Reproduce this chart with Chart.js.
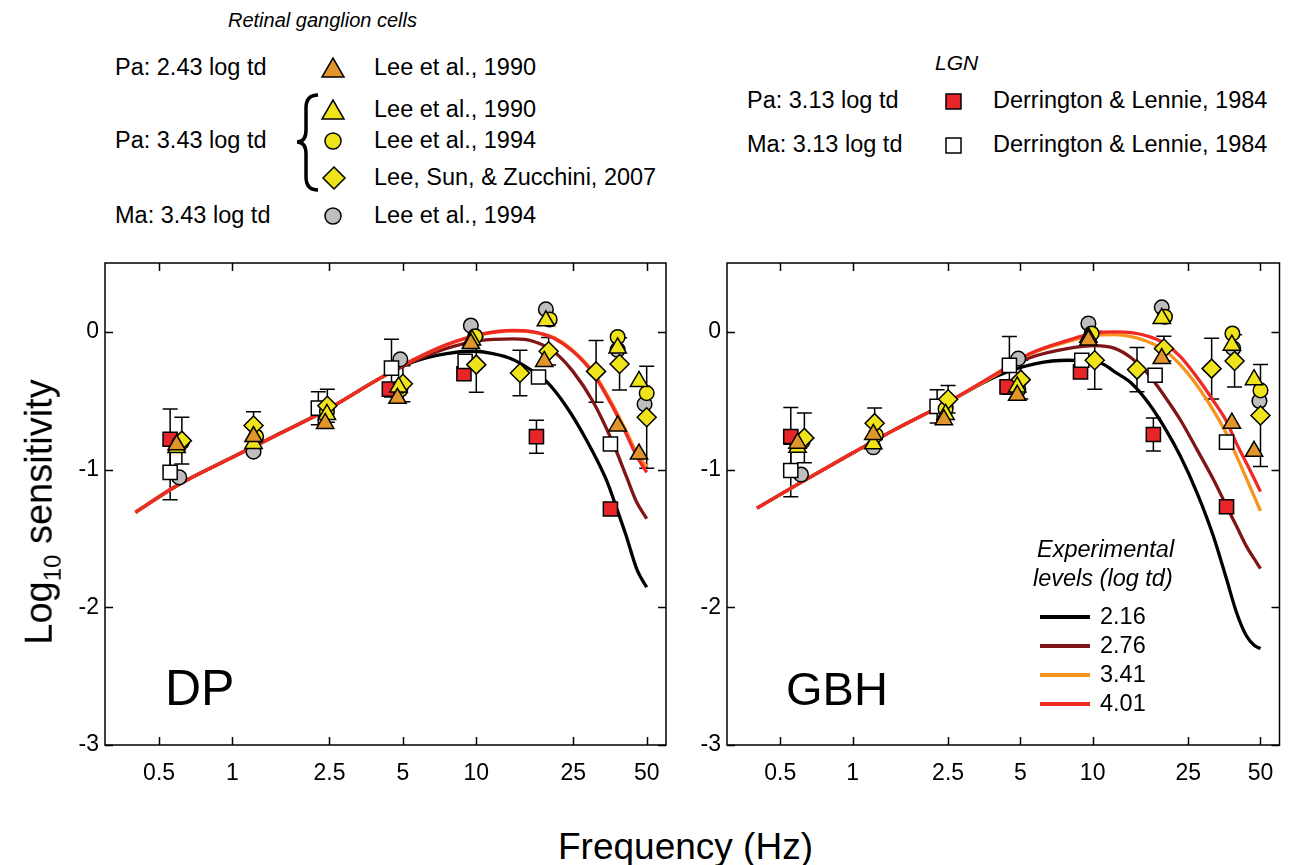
<!DOCTYPE html>
<html>
<head>
<meta charset="utf-8">
<script src="https://cdn.jsdelivr.net/npm/chart.js@4.4.0/dist/chart.umd.min.js"></script>
<style>
body { margin: 0; background: #fff; font-family: 'Liberation Sans', Arial, sans-serif; color: #000; }
#page { position: relative; width: 1291px; height: 865px; overflow: hidden; }
.t { position: absolute; white-space: nowrap; line-height: 1; transform: translateY(-50%); font-size: 23.5px; }
.it { font-style: italic; }
canvas { position: absolute; }
svg { position: absolute; left: 0; top: 0; }
.sw { position: absolute; height: 4px; width: 50px; transform: translateY(-50%); }
</style>
</head>
<body>
<div id="page">
  <svg width="1291" height="240">
    <polygon points="322,77 344,77 333,58" fill="#E0962B" stroke="#000" stroke-width="1.5"/>
    <polygon points="322,119 344,119 333,100" fill="#EFE41C" stroke="#000" stroke-width="1.5"/>
    <circle cx="333" cy="141" r="8" fill="#EFE41C" stroke="#000" stroke-width="1.5"/>
    <polygon points="334,167 345,178 334,189 323,178" fill="#EFE41C" stroke="#000" stroke-width="1.5"/>
    <circle cx="333" cy="216" r="8" fill="#BEBEBE" stroke="#000" stroke-width="1.5"/>
    <path d="M318,95 Q306,95 306,108 L306,130 Q306,142 297,142 Q306,142 306,154 L306,177 Q306,190 318,190" fill="none" stroke="#000" stroke-width="3.5"/>
    <rect x="946" y="94" width="15" height="15" fill="#E8262A" stroke="#000" stroke-width="1.5"/>
    <rect x="946" y="138" width="15" height="15" fill="#fff" stroke="#000" stroke-width="1.5"/>
  </svg>

  <div class="t it" style="left:228px;top:20px;font-size:20px">Retinal ganglion cells</div>
  <div class="t" style="left:115px;top:68px">Pa: 2.43 log td</div>
  <div class="t" style="left:374px;top:68px">Lee et al., 1990</div>
  <div class="t" style="left:374px;top:110px">Lee et al., 1990</div>
  <div class="t" style="left:115px;top:141px">Pa: 3.43 log td</div>
  <div class="t" style="left:374px;top:141px">Lee et al., 1994</div>
  <div class="t" style="left:374px;top:178px">Lee, Sun, &amp; Zucchini, 2007</div>
  <div class="t" style="left:115px;top:216px">Ma: 3.43 log td</div>
  <div class="t" style="left:374px;top:216px">Lee et al., 1994</div>

  <div class="t it" style="left:935px;top:62px;font-size:21px">LGN</div>
  <div class="t" style="left:747px;top:101px">Pa: 3.13 log td</div>
  <div class="t" style="left:993px;top:101px">Derrington &amp; Lennie, 1984</div>
  <div class="t" style="left:747px;top:145px">Ma: 3.13 log td</div>
  <div class="t" style="left:993px;top:145px">Derrington &amp; Lennie, 1984</div>

  <canvas id="dp" width="680" height="540" style="left:0;top:250px"></canvas>
  <canvas id="gbh" width="611" height="540" style="left:680px;top:250px"></canvas>

  <div class="t" style="left:165px;top:688px;font-size:50px">DP</div>
  <div class="t" style="left:786px;top:688px;font-size:47px">GBH</div>

  <div class="t it" style="left:1037px;top:550px">Experimental</div>
  <div class="t it" style="left:1033px;top:579px">levels (log td)</div>
  <div class="sw" style="left:1040px;top:617px;background:#000"></div>
  <div class="sw" style="left:1040px;top:646px;background:#801517"></div>
  <div class="sw" style="left:1040px;top:675px;background:#F7941D"></div>
  <div class="sw" style="left:1040px;top:704px;background:#EE2A24"></div>
  <div class="t" style="left:1100px;top:617px">2.16</div>
  <div class="t" style="left:1100px;top:646px">2.76</div>
  <div class="t" style="left:1100px;top:675px">3.41</div>
  <div class="t" style="left:1100px;top:704px">4.01</div>

  <div class="t" style="left:22px;top:512px;font-size:38px;transform:translate(-0%,-50%) rotate(-90deg);transform-origin:center;width:300px;margin-left:-130px;text-align:center">Log<sub style="font-size:24px">10</sub> sensitivity</div>
  <div class="t" style="left:558px;top:846px;font-size:37px">Frequency (Hz)</div>
</div>

<script>
// axis ticks
const xTicks = [0.5, 1, 2.5, 5, 10, 25, 50];
const yTicks = [-3, -2, -1, 0];

// ---- DP panel: data points ----
const dpOrangeTriX = [0.59, 1.22, 2.4, 4.75, 9.5, 19, 38, 46.5];
const dpOrangeTriY = [-0.82, -0.76, -0.665, -0.483, -0.085, -0.215, -0.683, -0.887];
const dpYellowTriX = [0.59, 1.22, 2.44, 4.8, 9.6, 19.3, 38, 46.5];
const dpYellowTriY = [-0.84, -0.81, -0.6, -0.4, -0.06, 0.08, -0.117, -0.36];
const dpYellowCircX = [0.62, 1.25, 2.44, 4.88, 9.9, 20, 38, 50];
const dpYellowCircY = [-0.8, -0.76, -0.58, -0.42, -0.032, 0.09, -0.037, -0.445];
const dpDiamondX = [0.62, 1.22, 2.45, 5.0, 10.0, 15.1, 19.8, 31, 38.7, 50];
const dpDiamondY = [-0.79, -0.68, -0.537, -0.377, -0.238, -0.299, -0.141, -0.287, -0.233, -0.62];
const dpDiamondErr = [0.17, 0.1, 0.12, 0.13, 0.2, 0.165, 0.1, 0.225, 0.19, 0.37];
const dpGrayX = [0.605, 1.22, 2.4, 4.88, 9.5, 19.3, 38, 49];
const dpGrayY = [-1.057, -0.87, -0.58, -0.2, 0.046, 0.163, -0.13, -0.525];
const dpRedSqX = [0.555, 4.4, 8.9, 17.65, 35.5];
const dpRedSqY = [-0.78, -0.416, -0.304, -0.761, -1.286];
const dpRedSqErr = [0.22, 0, 0, 0.12, 0];
const dpWhiteSqX = [0.555, 2.25, 4.49, 9.0, 18.0, 35.5];
const dpWhiteSqY = [-1.02, -0.554, -0.263, -0.214, -0.328, -0.814];
const dpWhiteSqErr = [0.2, 0.12, 0.21, 0, 0, 0];

// ---- DP panel: model curves ----
const dpCurveX = [0.4, 0.6, 1, 1.5, 2.5, 4, 5.5, 7.55, 10.3, 14.2, 17.1, 20.7, 24.9, 30.1, 36.4, 41.3, 45.4, 50];
const dpRed = [-1.31, -1.11, -0.91, -0.755, -0.555, -0.34, -0.205, -0.093, -0.02, 0.01, 0.0, -0.044, -0.141, -0.3, -0.55, -0.745, -0.9, -1.02];
const dpOrange = [-1.31, -1.11, -0.91, -0.755, -0.555, -0.34, -0.205, -0.095, -0.022, 0.008, -0.002, -0.04, -0.135, -0.29, -0.535, -0.725, -0.875, -0.98];
const dpDarkRed = [-1.31, -1.11, -0.91, -0.755, -0.555, -0.34, -0.215, -0.12, -0.063, -0.051, -0.068, -0.141, -0.287, -0.506, -0.809, -1.052, -1.234, -1.356];
const dpBlackX = [0.4, 0.6, 1, 1.5, 2.5, 4, 5.5, 7.55, 9.65, 11.7, 14.2, 17.1, 19.4, 23.4, 28.3, 34.2, 37.8, 41, 45.7, 50];
const dpBlack = [-1.31, -1.11, -0.91, -0.755, -0.555, -0.34, -0.219, -0.158, -0.141, -0.158, -0.202, -0.287, -0.36, -0.542, -0.785, -1.077, -1.29, -1.47, -1.73, -1.855];

// ---- GBH panel: data points ----
const gbhOrangeTriX = [0.59, 1.22, 2.4, 4.85, 9.6, 19.4, 38, 47];
const gbhOrangeTriY = [-0.808, -0.745, -0.638, -0.461, -0.06, -0.194, -0.663, -0.867];
const gbhYellowTriX = [0.59, 1.22, 2.44, 4.85, 9.6, 19.4, 38, 47];
const gbhYellowTriY = [-0.838, -0.813, -0.6, -0.4, -0.04, 0.097, -0.097, -0.347];
const gbhYellowCircX = [0.62, 1.25, 2.44, 4.9, 9.9, 20, 38.2, 50];
const gbhYellowCircY = [-0.794, -0.75, -0.56, -0.42, -0.012, 0.11, -0.012, -0.425];
const gbhDiamondX = [0.63, 1.236, 2.5, 5.02, 10.2, 15.3, 19.8, 31.3, 39, 50];
const gbhDiamondY = [-0.77, -0.663, -0.49, -0.347, -0.206, -0.274, -0.121, -0.267, -0.211, -0.607];
const gbhDiamondErr = [0.18, 0.11, 0.1, 0.14, 0.21, 0.16, 0.09, 0.22, 0.19, 0.37];
const gbhGrayX = [0.61, 1.22, 2.44, 4.9, 9.6, 19.4, 38.5, 49.5];
const gbhGrayY = [-1.036, -0.838, -0.545, -0.194, 0.061, 0.178, -0.12, -0.502];
const gbhRedSqX = [0.553, 4.4, 8.9, 17.9, 36.1];
const gbhRedSqY = [-0.76, -0.4, -0.291, -0.745, -1.27];
const gbhRedSqErr = [0.21, 0, 0, 0.12, 0];
const gbhWhiteSqX = [0.553, 2.25, 4.5, 9.01, 18.2, 36.1];
const gbhWhiteSqY = [-1.007, -0.541, -0.243, -0.206, -0.315, -0.801];
const gbhWhiteSqErr = [0.19, 0.12, 0.21, 0, 0, 0];

// ---- GBH panel: model curves ----
const gbhCurveX = [0.4, 0.6, 1, 1.5, 2.5, 4, 5.44, 7.94, 10.2, 12.35, 14.5, 16.9, 19.8, 23.2, 27.2, 31.8, 36.1, 39.7, 43.6, 47.2, 50];
const gbhRed = [-1.28, -1.1, -0.88, -0.71, -0.51, -0.3, -0.16, -0.06, -0.01, 0.0, -0.005, -0.03, -0.08, -0.18, -0.33, -0.5, -0.65, -0.81, -0.95, -1.07, -1.16];
const gbhOrange = [-1.28, -1.1, -0.88, -0.71, -0.51, -0.305, -0.165, -0.07, -0.025, -0.02, -0.035, -0.07, -0.13, -0.24, -0.39, -0.57, -0.74, -0.9, -1.06, -1.2, -1.3];
const gbhDarkRed = [-1.28, -1.1, -0.88, -0.71, -0.51, -0.31, -0.19, -0.12, -0.1, -0.12, -0.19, -0.3, -0.46, -0.64, -0.855, -1.07, -1.265, -1.41, -1.554, -1.651, -1.72];
const gbhBlackX = [0.4, 0.6, 1, 1.5, 2.5, 4, 5.8, 7.94, 10.9, 12.35, 14.5, 16.9, 19.8, 23.2, 27.2, 31.8, 36.1, 39.7, 43.6, 47.2, 50];
const gbhBlack = [-1.28, -1.1, -0.88, -0.71, -0.51, -0.32, -0.23, -0.206, -0.23, -0.29, -0.373, -0.506, -0.687, -0.904, -1.169, -1.482, -1.795, -2.036, -2.205, -2.277, -2.3];

const FONT = "'Liberation Sans', Arial, sans-serif";

function pts(xs, ys) {
    return xs.map((x, i) => ({ x: x, y: ys[i] }));
}

function markers(label, xs, ys, err, shape, radius, fill) {
    return {
        label: label,
        data: pts(xs, ys),
        errorBars: err,
        showLine: false,
        pointStyle: shape,
        pointRadius: radius,
        backgroundColor: fill,
        borderColor: '#000',
        borderWidth: 1.5
    };
}

function curve(label, xs, ys, color) {
    return {
        label: label,
        data: pts(xs, ys),
        showLine: true,
        borderColor: color,
        borderWidth: 3.3,
        pointRadius: 0,
        cubicInterpolationMode: 'monotone',
        fill: false
    };
}

// box with inward ticks on all four sides
const frame = {
    id: 'frame',
    beforeDatasetsDraw(chart) {
        const { ctx, chartArea: a, scales: { x, y } } = chart;
        const t = 8;
        ctx.save();
        ctx.strokeStyle = '#000';
        ctx.lineWidth = 1.5;
        ctx.strokeRect(a.left, a.top, a.right - a.left, a.bottom - a.top);
        ctx.beginPath();
        xTicks.forEach(v => {
            const px = Math.round(x.getPixelForValue(v)) + 0.5;
            ctx.moveTo(px, a.bottom); ctx.lineTo(px, a.bottom - t);
            ctx.moveTo(px, a.top); ctx.lineTo(px, a.top + t);
        });
        yTicks.forEach(v => {
            const py = Math.round(y.getPixelForValue(v)) + 0.5;
            ctx.moveTo(a.left, py); ctx.lineTo(a.left + t, py);
            ctx.moveTo(a.right, py); ctx.lineTo(a.right - t, py);
        });
        ctx.stroke();
        ctx.restore();
    }
};

// vertical error bars with caps, drawn under the markers
const errorBars = {
    id: 'errorBars',
    beforeDatasetsDraw(chart) {
        const { ctx, scales: { x, y } } = chart;
        ctx.save();
        ctx.strokeStyle = '#000';
        ctx.lineWidth = 1.5;
        chart.data.datasets.forEach(ds => {
            if (!ds.errorBars) return;
            ds.data.forEach((p, i) => {
                const e = ds.errorBars[i];
                if (!e) return;
                const px = x.getPixelForValue(p.x);
                const top = y.getPixelForValue(p.y + e);
                const bot = y.getPixelForValue(p.y - e);
                ctx.beginPath();
                ctx.moveTo(px, top); ctx.lineTo(px, bot);
                ctx.moveTo(px - 7.5, top); ctx.lineTo(px + 7.5, top);
                ctx.moveTo(px - 7.5, bot); ctx.lineTo(px + 7.5, bot);
                ctx.stroke();
            });
        });
        ctx.restore();
    }
};

function buildChart(id, sets, yWidth, padRight) {
    return new Chart(document.getElementById(id), {
        type: 'scatter',
        data: { datasets: sets },
        options: {
            responsive: false,
            animation: false,
            devicePixelRatio: 1,
            layout: { padding: { top: 13, right: padRight, left: 0, bottom: 0 } },
            plugins: { legend: { display: false }, tooltip: { enabled: false } },
            scales: {
                x: {
                    type: 'logarithmic',
                    min: 0.3,
                    max: 60,
                    grid: { display: false, drawTicks: false },
                    border: { display: false },
                    afterBuildTicks: s => { s.ticks = xTicks.map(v => ({ value: v })); },
                    afterFit: s => { s.height = 45; s.paddingLeft = 0; s.paddingRight = 0; },
                    ticks: {
                        callback: v => String(v),
                        autoSkip: false,
                        maxRotation: 0,
                        padding: 15,
                        color: '#000',
                        font: { family: FONT, size: 23 }
                    }
                },
                y: {
                    type: 'linear',
                    min: -3,
                    max: 0.5,
                    grid: { display: false, drawTicks: false },
                    border: { display: false },
                    afterBuildTicks: s => { s.ticks = yTicks.map(v => ({ value: v })); },
                    afterFit: s => { s.width = yWidth; s.paddingTop = 0; s.paddingBottom = 0; },
                    ticks: {
                        callback: v => String(v),
                        padding: 6,
                        color: '#000',
                        font: { family: FONT, size: 23 }
                    }
                }
            }
        },
        plugins: [frame, errorBars]
    });
}

const ORANGE = '#E0962B', YELLOW = '#EFE41C', GRAY = '#BEBEBE', RED = '#E8262A';

buildChart('dp', [
    markers('Pa 2.43 Lee 1990', dpOrangeTriX, dpOrangeTriY, null, 'triangle', 10, ORANGE),
    markers('Pa 3.43 Lee 1990', dpYellowTriX, dpYellowTriY, null, 'triangle', 10, YELLOW),
    markers('Pa 3.43 Lee 2007', dpDiamondX, dpDiamondY, dpDiamondErr, 'rectRot', 9.5, YELLOW),
    markers('Pa 3.43 Lee 1994', dpYellowCircX, dpYellowCircY, null, 'circle', 7.3, YELLOW),
    markers('Ma LGN', dpWhiteSqX, dpWhiteSqY, dpWhiteSqErr, 'rect', 10, '#fff'),
    markers('Pa LGN', dpRedSqX, dpRedSqY, dpRedSqErr, 'rect', 10, RED),
    markers('Ma 3.43 Lee 1994', dpGrayX, dpGrayY, null, 'circle', 7.3, GRAY),
    curve('4.01', dpCurveX, dpRed, '#EE2A24'),
    curve('3.41', dpCurveX, dpOrange, '#F7941D'),
    curve('2.76', dpCurveX, dpDarkRed, '#801517'),
    curve('2.16', dpBlackX, dpBlack, '#000000')
], 105, 14);

buildChart('gbh', [
    markers('Pa 2.43 Lee 1990', gbhOrangeTriX, gbhOrangeTriY, null, 'triangle', 10, ORANGE),
    markers('Pa 3.43 Lee 1990', gbhYellowTriX, gbhYellowTriY, null, 'triangle', 10, YELLOW),
    markers('Pa 3.43 Lee 2007', gbhDiamondX, gbhDiamondY, gbhDiamondErr, 'rectRot', 9.5, YELLOW),
    markers('Pa 3.43 Lee 1994', gbhYellowCircX, gbhYellowCircY, null, 'circle', 7.3, YELLOW),
    markers('Ma LGN', gbhWhiteSqX, gbhWhiteSqY, gbhWhiteSqErr, 'rect', 10, '#fff'),
    markers('Pa LGN', gbhRedSqX, gbhRedSqY, gbhRedSqErr, 'rect', 10, RED),
    markers('Ma 3.43 Lee 1994', gbhGrayX, gbhGrayY, null, 'circle', 7.3, GRAY),
    curve('4.01', gbhCurveX, gbhRed, '#EE2A24'),
    curve('3.41', gbhCurveX, gbhOrange, '#F7941D'),
    curve('2.76', gbhCurveX, gbhDarkRed, '#801517'),
    curve('2.16', gbhBlackX, gbhBlack, '#000000')
], 47, 4);
</script>
</body>
</html>
